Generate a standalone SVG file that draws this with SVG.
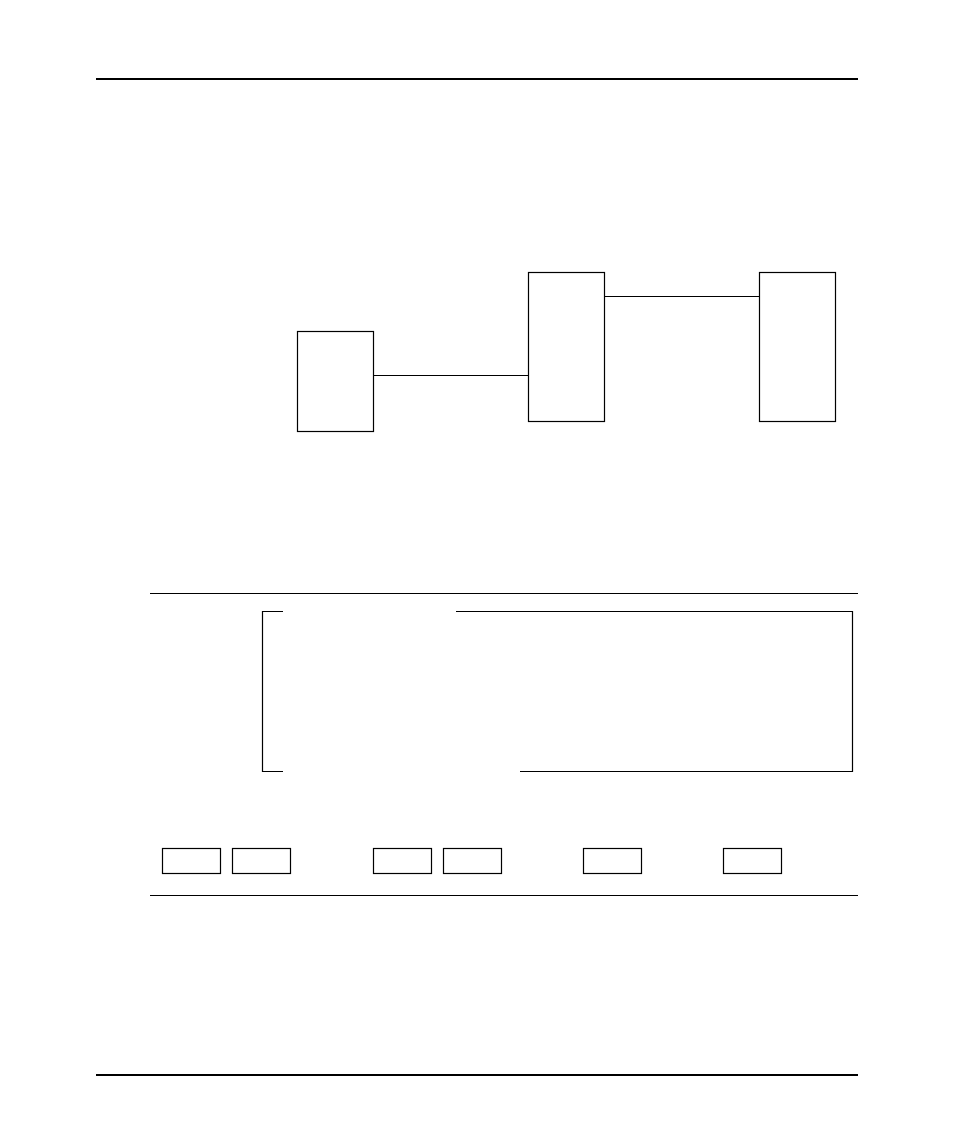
<svg xmlns="http://www.w3.org/2000/svg" width="954" height="1145" viewBox="0 0 954 1145">
<style>
.box{fill:#fff;stroke:#000;stroke-width:1.2}
.ln{stroke:#000;stroke-width:1.2;fill:none}
.rule{stroke:#000;stroke-width:2;fill:none}
</style>
<rect width="954" height="1145" fill="#fff"/>
<line class="rule" x1="96" y1="79" x2="858" y2="79"/>
<line class="rule" x1="96" y1="1075" x2="858" y2="1075"/>
<g id="connectors">
<line class="ln" x1="373.5" y1="375.5" x2="528.5" y2="375.5"/>
<line class="ln" x1="604.5" y1="296.5" x2="759.5" y2="296.5"/>
</g>
<g id="node1"><rect class="box" x="297.5" y="331.5" width="76" height="100"/></g>
<g id="node2"><rect class="box" x="528.5" y="272.5" width="76" height="149"/></g>
<g id="node3"><rect class="box" x="759.5" y="272.5" width="76" height="149"/></g>
<line class="ln" x1="150" y1="593.5" x2="858" y2="593.5"/>
<g id="frame">
<path class="ln" d="M283 611.5 H262.5 V771.5 H283"/>
<path class="ln" d="M456 611.5 H852.5 V771.5 H520"/>
</g>
<g id="small1"><rect class="box" x="162.5" y="848.5" width="58" height="25"/></g>
<g id="small2"><rect class="box" x="232.5" y="848.5" width="58" height="25"/></g>
<g id="small3"><rect class="box" x="373.5" y="848.5" width="58" height="25"/></g>
<g id="small4"><rect class="box" x="443.5" y="848.5" width="58" height="25"/></g>
<g id="small5"><rect class="box" x="583.5" y="848.5" width="58" height="25"/></g>
<g id="small6"><rect class="box" x="723.5" y="848.5" width="58" height="25"/></g>
<line class="ln" x1="150" y1="895.5" x2="858" y2="895.5"/>
</svg>
